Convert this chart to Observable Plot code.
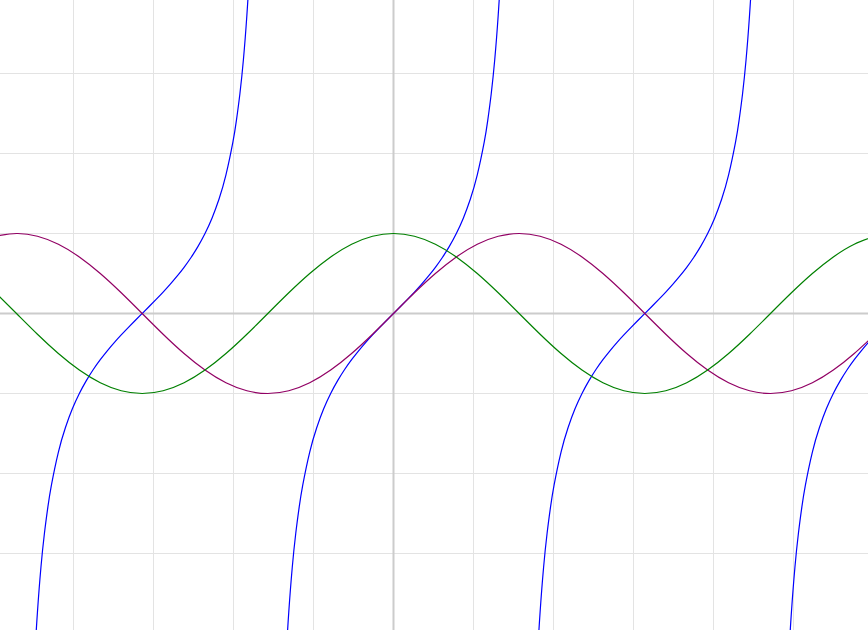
<!DOCTYPE html>
<html>
<head>
<meta charset="utf-8">
<script src="https://cdn.jsdelivr.net/npm/d3@7"></script>
<script src="https://cdn.jsdelivr.net/npm/@observablehq/plot@0.6"></script>
<style>
  html, body { margin: 0; padding: 0; background: #fff; }
  #chart svg { display: block; }
</style>
</head>
<body>
<div id="chart"></div>
<script>
// Sample positions (radians) for the sine and cosine curves
const waveX = [-4.9742, -4.7124, -4.4506, -4.1888, -3.9270, -3.6652, -3.4034, -3.1416, -2.8798, -2.6180,
  -2.3562, -2.0944, -1.8326, -1.5708, -1.3090, -1.0472, -0.7854, -0.5236, -0.2618, 0,
  0.2618, 0.5236, 0.7854, 1.0472, 1.3090, 1.5708, 1.8326, 2.0944, 2.3562, 2.6180,
  2.8798, 3.1416, 3.4034, 3.6652, 3.9270, 4.1888, 4.4506, 4.7124, 4.9742, 5.2360,
  5.4978, 5.7596, 6.0214];
const sinY = [0.966, 1, 0.966, 0.866, 0.707, 0.5, 0.259, 0, -0.259, -0.5,
  -0.707, -0.866, -0.966, -1, -0.966, -0.866, -0.707, -0.5, -0.259, 0,
  0.259, 0.5, 0.707, 0.866, 0.966, 1, 0.966, 0.866, 0.707, 0.5,
  0.259, 0, -0.259, -0.5, -0.707, -0.866, -0.966, -1, -0.966, -0.866,
  -0.707, -0.5, -0.259];
const cosY = [0.259, 0, -0.259, -0.5, -0.707, -0.866, -0.966, -1, -0.966, -0.866,
  -0.707, -0.5, -0.259, 0, 0.259, 0.5, 0.707, 0.866, 0.966, 1,
  0.966, 0.866, 0.707, 0.5, 0.259, 0, -0.259, -0.5, -0.707, -0.866,
  -0.966, -1, -0.966, -0.866, -0.707, -0.5, -0.259, 0, 0.259, 0.5,
  0.707, 0.866, 0.966];

// Tangent: one branch sampled around its centre, repeated at each branch centre
const tanOffset = [-1.3963, -1.3526, -1.3090, -1.2654, -1.2217, -1.1781, -1.1345, -1.0472, -0.9599, -0.8727,
  -0.7854, -0.6981, -0.6109, -0.5236, -0.4363, -0.3491, -0.2618, -0.1745, -0.0873, 0,
  0.0873, 0.1745, 0.2618, 0.3491, 0.4363, 0.5236, 0.6109, 0.6981, 0.7854, 0.8727,
  0.9599, 1.0472, 1.1345, 1.1781, 1.2217, 1.2654, 1.3090, 1.3526, 1.3963];
const tanY = [-5.6713, -4.5107, -3.7321, -3.1716, -2.7475, -2.4142, -2.1445, -1.7321, -1.4281, -1.1918,
  -1, -0.8391, -0.7002, -0.5774, -0.4663, -0.3640, -0.2679, -0.1763, -0.0875, 0,
  0.0875, 0.1763, 0.2679, 0.3640, 0.4663, 0.5774, 0.7002, 0.8391, 1, 1.1918,
  1.4281, 1.7321, 2.1445, 2.4142, 2.7475, 3.1716, 3.7321, 4.5107, 5.6713];
const tanCenters = [-3.1416, 0, 3.1416, 6.2832];

const gridXTicks = [-4, -3, -2, -1, 1, 2, 3, 4, 5];
const gridYTicks = [-3, -2, -1, 1, 2, 3];
const xDomain = [-4.9125, 5.9375];
const yDomain = [-3.9625, 3.9125];

const sinData = waveX.map((x, i) => ({x, y: sinY[i]}));
const cosData = waveX.map((x, i) => ({x, y: cosY[i]}));
const tanData = tanCenters.flatMap((c, b) => tanOffset.map((o, i) => ({x: c + o, y: tanY[i], branch: b})));

const chart = Plot.plot({
  width: 868,
  height: 630,
  margin: 0,
  x: {domain: xDomain, axis: null},
  y: {domain: yDomain, axis: null},
  marks: [
    Plot.ruleX(gridXTicks, {stroke: "#e3e3e3", strokeWidth: 1}),
    Plot.ruleY(gridYTicks, {stroke: "#e3e3e3", strokeWidth: 1}),
    Plot.ruleX([0], {stroke: "#cccccc", strokeWidth: 2}),
    Plot.ruleY([0], {stroke: "#cccccc", strokeWidth: 2}),
    Plot.line(tanData, {x: "x", y: "y", z: "branch", stroke: "blue", strokeWidth: 1.2, curve: "natural", clip: true}),
    Plot.line(sinData, {x: "x", y: "y", stroke: "#910064", strokeWidth: 1.2, curve: "natural", clip: true}),
    Plot.line(cosData, {x: "x", y: "y", stroke: "green", strokeWidth: 1.2, curve: "natural", clip: true})
  ]
});
document.getElementById("chart").appendChild(chart);
</script>
</body>
</html>
